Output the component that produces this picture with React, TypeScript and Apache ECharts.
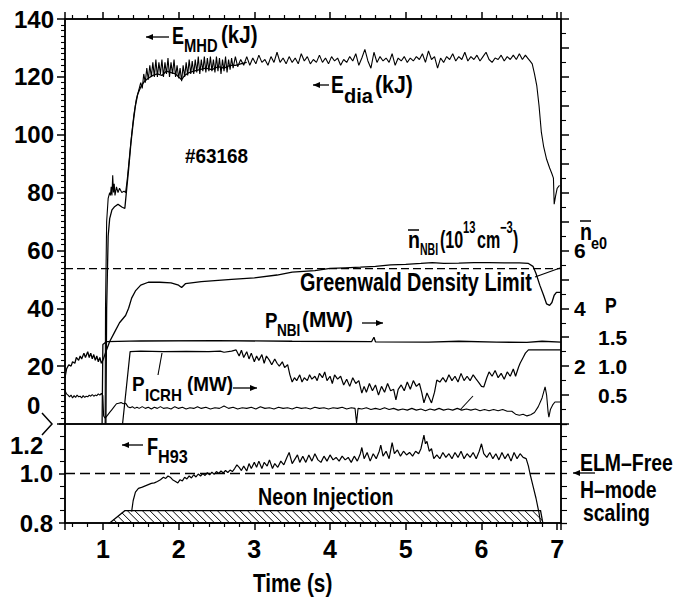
import React, { useEffect, useRef } from 'react';
import * as echarts from 'echarts';

// ---------- data (time in s) ----------
const timeMin = 0.5;
const timeMax = 7.05;

// stored energy E_MHD (kJ), left axis
const eMhd: [number, number][] = [
  [1.03, 0], [1.035, 40], [1.05, 70], [1.07, 78], [1.09, 80], [1.1, 79], [1.11, 82], [1.12, 79], [1.13, 86], [1.14, 80],
  [1.15, 83], [1.16, 79], [1.18, 82], [1.2, 80], [1.22, 81.5], [1.25, 80], [1.28, 80.5], [1.3, 80], [1.32, 84], [1.35, 92],
  [1.38, 100], [1.41, 107], [1.44, 112], [1.47, 115], [1.5, 118], [1.52, 116], [1.54, 121], [1.56, 118], [1.58, 123], [1.6, 119],
  [1.62, 124], [1.64, 120], [1.66, 125], [1.68, 120], [1.7, 126], [1.72, 120], [1.74, 125], [1.76, 121], [1.78, 126], [1.8, 120],
  [1.82, 125], [1.84, 121], [1.86, 126.5], [1.88, 120], [1.9, 125], [1.92, 121], [1.94, 126], [1.96, 120], [1.98, 124], [2.0, 119.5],
  [2.02, 123], [2.04, 118.5], [2.06, 124], [2.08, 120], [2.1, 125], [2.12, 120.5], [2.14, 126], [2.16, 121], [2.18, 125.5], [2.2, 121],
  [2.22, 126], [2.24, 121.5], [2.26, 127], [2.28, 121], [2.3, 126], [2.32, 122], [2.34, 127], [2.36, 121.5], [2.38, 126.5], [2.4, 122],
  [2.42, 127], [2.44, 122], [2.46, 126], [2.48, 121.5], [2.5, 127], [2.52, 122], [2.54, 126.5], [2.56, 121], [2.58, 126], [2.6, 122],
  [2.62, 127], [2.64, 121.5], [2.66, 126], [2.68, 122.5], [2.7, 126.5], [2.72, 123], [2.75, 127], [2.78, 123.5], [2.82, 126], [2.86, 124],
  [2.9, 127], [2.94, 124], [2.98, 126.5], [3.02, 124.5], [3.06, 127.5], [3.1, 125], [3.14, 126], [3.18, 124], [3.22, 127], [3.26, 125],
  [3.3, 128.5], [3.34, 125], [3.38, 126.5], [3.42, 124.5], [3.46, 127], [3.5, 125], [3.54, 126.5], [3.58, 124.5], [3.62, 128], [3.66, 125.5],
  [3.7, 127], [3.74, 124.5], [3.78, 126], [3.82, 125], [3.86, 127.5], [3.9, 125], [3.94, 126.5], [3.98, 124.5], [4.02, 127], [4.06, 125.5],
  [4.1, 126.5], [4.14, 124], [4.18, 126], [4.22, 125], [4.26, 127], [4.3, 125.5], [4.34, 128], [4.38, 124], [4.42, 126.5], [4.46, 129.5],
  [4.5, 125.5], [4.54, 123], [4.58, 128.5], [4.62, 125], [4.66, 127], [4.7, 125.5], [4.74, 126.5], [4.78, 125], [4.82, 128], [4.86, 124],
  [4.9, 126.5], [4.94, 125.5], [4.98, 127], [5.02, 125], [5.06, 126.5], [5.1, 125.5], [5.14, 127], [5.18, 126], [5.22, 128], [5.26, 125],
  [5.3, 129], [5.34, 126], [5.38, 127], [5.42, 123], [5.46, 126.5], [5.5, 125], [5.54, 127], [5.58, 126], [5.62, 128], [5.66, 125.5],
  [5.7, 127], [5.74, 126], [5.78, 128.5], [5.82, 125.5], [5.86, 127], [5.9, 126], [5.94, 127.5], [5.98, 125.5], [6.02, 127], [6.06, 128.5],
  [6.1, 126], [6.14, 125], [6.18, 126.5], [6.22, 126], [6.26, 127.5], [6.3, 125.5], [6.34, 127], [6.38, 126], [6.42, 127.5], [6.46, 126],
  [6.5, 128], [6.54, 126], [6.58, 127.5], [6.61, 126.5], [6.64, 125.5], [6.67, 124.5], [6.7, 121], [6.73, 117], [6.76, 110], [6.79, 101],
  [6.82, 96], [6.86, 91.5], [6.9, 88.5], [6.93, 86.5], [6.95, 85], [6.96, 76], [6.98, 79], [7.0, 81.5], [7.03, 82.5],
];

// diamagnetic energy E_dia (kJ), left axis
const eDia: [number, number][] = [
  [1.04, 0], [1.05, 40], [1.07, 65], [1.09, 71], [1.12, 74], [1.15, 75], [1.2, 76], [1.25, 75], [1.29, 74.5], [1.31, 80],
  [1.34, 88], [1.37, 97], [1.4, 104], [1.43, 110], [1.46, 114], [1.5, 116.5], [1.55, 118.5], [1.6, 119.5], [1.66, 120.5], [1.72, 121],
  [1.78, 120.5], [1.84, 122], [1.9, 121.5], [1.96, 121], [2.0, 120], [2.04, 119], [2.08, 120.5], [2.14, 121.5], [2.2, 122], [2.28, 122.5],
  [2.36, 123], [2.44, 122.5], [2.52, 123.5], [2.6, 123], [2.68, 124], [2.75, 124], [2.82, 124.5], [2.9, 125],
];

// line averaged density (10^13 cm^-3), right n_e0 axis
const density: [number, number][] = [
  [0.5, 1.6], [0.52, 1.9], [0.55, 2.05], [0.58, 2.0], [0.6, 2.15], [0.63, 2.1], [0.65, 2.3], [0.68, 2.2], [0.7, 2.35], [0.72, 2.25],
  [0.75, 2.45], [0.77, 2.3], [0.8, 2.5], [0.82, 2.3], [0.84, 2.45], [0.86, 2.25], [0.88, 2.4], [0.9, 2.2], [0.92, 2.35], [0.94, 2.15],
  [0.96, 2.3], [0.98, 2.1], [1.0, 2.2], [1.04, 2.5], [1.09, 2.85], [1.15, 3.15], [1.22, 3.5], [1.3, 3.75], [1.34, 4.0], [1.38, 4.35],
  [1.43, 4.6], [1.5, 4.8], [1.6, 4.9], [1.75, 4.9], [1.9, 4.88], [2.0, 4.8], [2.04, 4.72], [2.09, 4.85], [2.3, 4.92], [2.7, 5.0],
  [3.0, 5.05], [3.3, 5.15], [3.5, 5.25], [3.8, 5.3], [4.0, 5.38], [4.2, 5.4], [4.4, 5.42], [4.6, 5.45], [4.8, 5.5], [5.0, 5.52],
  [5.2, 5.55], [5.35, 5.58], [5.5, 5.55], [5.7, 5.56], [5.9, 5.58], [6.1, 5.58], [6.3, 5.57], [6.5, 5.57], [6.62, 5.55], [6.68, 5.45],
  [6.72, 5.2], [6.77, 4.8], [6.82, 4.45], [6.86, 4.15], [6.9, 4.1], [6.93, 4.2], [6.96, 4.45], [6.99, 4.55], [7.05, 4.55],
];

// Greenwald density limit (10^13 cm^-3)
const greenwald: [number, number][] = [[0.5, 5.37], [7.05, 5.37]];

// NBI power (MW), left axis
const pNbi: [number, number][] = [
  [0.99, 0], [1.0, 27.5], [1.05, 28.5], [1.5, 28.7], [2.5, 28.8], [3.5, 28.6], [4.55, 28.5], [4.58, 30], [4.6, 28.4],
  [5.3, 28.3], [5.7, 28.6], [6.2, 28.3], [6.6, 28.2], [6.8, 28.6], [7.05, 28.3],
];

// ICRH power (MW), left axis
const pIcrh: [number, number][] = [
  [1.26, 0], [1.36, 25], [1.5, 25.2], [1.8, 25], [2.1, 25.1], [2.4, 25], [2.55, 25.2], [2.6, 24.8], [2.7, 25.2], [2.76, 25.6],
  [2.8, 23.5], [2.83, 25.5], [2.86, 23], [2.9, 25], [2.93, 22.5], [2.96, 24.5], [3.0, 21.5], [3.03, 23.5], [3.06, 22], [3.1, 24],
  [3.13, 21], [3.16, 23.5], [3.2, 22], [3.23, 20.5], [3.27, 22.5], [3.3, 21], [3.33, 20], [3.37, 21.5], [3.4, 19.5], [3.44, 20.5],
  [3.47, 17], [3.5, 14.5], [3.53, 16], [3.56, 15], [3.6, 17], [3.63, 14.5], [3.66, 16], [3.7, 15], [3.73, 17], [3.76, 15.5],
  [3.8, 16.5], [3.83, 15], [3.86, 17.5], [3.9, 16], [3.93, 18], [3.96, 15], [4.0, 16.5], [4.03, 14], [4.06, 17], [4.1, 15.5],
  [4.14, 16.5], [4.18, 13.5], [4.22, 15.5], [4.26, 13], [4.3, 16], [4.34, 14], [4.38, 15], [4.42, 10.7], [4.45, 13], [4.48, 11],
  [4.52, 14], [4.56, 11.5], [4.6, 13.5], [4.64, 10], [4.68, 13], [4.72, 11], [4.76, 14], [4.8, 11.5], [4.84, 12], [4.87, 8.3],
  [4.9, 12], [4.94, 13.5], [4.98, 11.5], [5.02, 14.5], [5.06, 12], [5.1, 15], [5.14, 13], [5.18, 14], [5.21, 11], [5.24, 7.3],
  [5.28, 10.7], [5.31, 9], [5.34, 7.3], [5.38, 11], [5.41, 15.2], [5.45, 14.5], [5.49, 16], [5.53, 14.5], [5.57, 17], [5.61, 15],
  [5.65, 16.5], [5.69, 14.5], [5.73, 17.5], [5.77, 15], [5.81, 16.5], [5.85, 15], [5.89, 17], [5.93, 15.5], [5.96, 14.5], [6.0, 13],
  [6.03, 12.8], [6.07, 16], [6.1, 18], [6.14, 16.5], [6.18, 18.5], [6.22, 16], [6.26, 17.5], [6.3, 15.5], [6.34, 18], [6.38, 16.5],
  [6.42, 19], [6.45, 16.5], [6.49, 19.7], [6.51, 21], [6.55, 23], [6.58, 24.5], [6.62, 25.6], [7.05, 25.6],
];

// lowest trace, right P axis
const pLow: [number, number][] = [
  [0.5, 0.58], [0.52, 0.52], [0.54, 0.5], [0.56, 0.47], [0.58, 0.5], [0.6, 0.45], [0.62, 0.49], [0.64, 0.46], [0.66, 0.5], [0.68, 0.47],
  [0.7, 0.48], [0.72, 0.45], [0.74, 0.49], [0.76, 0.46], [0.78, 0.48], [0.8, 0.47], [0.82, 0.5], [0.84, 0.48], [0.86, 0.51], [0.88, 0.48],
  [0.9, 0.5], [0.92, 0.49], [0.94, 0.52], [0.96, 0.5], [0.98, 0.53], [1.0, 0.49], [1.01, 0.14], [1.03, 0.1], [1.06, 0.15], [1.09, 0.2],
  [1.12, 0.25], [1.15, 0.3], [1.18, 0.35], [1.21, 0.36], [1.24, 0.37], [1.27, 0.35], [1.3, 0.36], [1.33, 0.3], [1.36, 0.28], [1.39, 0.3],
  [1.42, 0.27], [1.45, 0.29], [1.48, 0.27], [1.52, 0.3], [1.56, 0.27], [1.6, 0.29], [1.64, 0.26], [1.68, 0.29], [1.72, 0.27], [1.76, 0.3],
  [1.8, 0.27], [1.85, 0.28], [1.9, 0.26], [1.95, 0.3], [2.0, 0.27], [2.05, 0.29], [2.1, 0.26], [2.15, 0.28], [2.2, 0.27], [2.25, 0.3],
  [2.3, 0.27], [2.36, 0.29], [2.42, 0.26], [2.48, 0.28], [2.54, 0.27], [2.6, 0.31], [2.66, 0.27], [2.72, 0.29], [2.78, 0.26], [2.84, 0.28],
  [2.9, 0.27], [2.96, 0.29], [3.02, 0.26], [3.08, 0.3], [3.14, 0.27], [3.2, 0.28], [3.26, 0.26], [3.32, 0.29], [3.38, 0.27], [3.44, 0.28],
  [3.5, 0.26], [3.56, 0.29], [3.62, 0.27], [3.68, 0.28], [3.74, 0.26], [3.8, 0.29], [3.86, 0.27], [3.92, 0.28], [3.98, 0.26], [4.04, 0.28],
  [4.1, 0.27], [4.16, 0.29], [4.22, 0.26], [4.28, 0.28], [4.33, 0.27], [4.35, 0.02], [4.37, 0.27], [4.42, 0.26], [4.48, 0.28], [4.54, 0.25],
  [4.6, 0.27], [4.66, 0.25], [4.72, 0.28], [4.78, 0.25], [4.84, 0.27], [4.9, 0.24], [4.96, 0.26], [5.02, 0.24], [5.08, 0.27], [5.14, 0.24],
  [5.2, 0.26], [5.26, 0.23], [5.32, 0.26], [5.38, 0.24], [5.44, 0.27], [5.5, 0.24], [5.56, 0.26], [5.62, 0.24], [5.68, 0.27], [5.74, 0.24],
  [5.8, 0.26], [5.86, 0.24], [5.92, 0.26], [5.98, 0.23], [6.04, 0.25], [6.1, 0.23], [6.16, 0.25], [6.22, 0.23], [6.28, 0.25], [6.34, 0.22],
  [6.4, 0.22], [6.45, 0.17], [6.5, 0.15], [6.55, 0.17], [6.6, 0.14], [6.65, 0.16], [6.7, 0.2], [6.75, 0.3], [6.8, 0.45], [6.84, 0.64],
  [6.86, 0.5], [6.88, 0.2], [6.89, 0.12], [6.91, 0.25], [6.94, 0.33], [6.97, 0.38], [7.05, 0.38],
];

// confinement enhancement factor F_H93, lower panel
const fH93: [number, number][] = [
  [1.38, 0.846], [1.4, 0.89], [1.43, 0.925], [1.47, 0.94], [1.52, 0.945], [1.56, 0.95], [1.6, 0.955], [1.64, 0.96], [1.68, 0.962], [1.72, 0.968],
  [1.76, 0.975], [1.8, 0.985], [1.83, 0.98], [1.86, 0.99], [1.89, 0.985], [1.92, 0.975], [1.96, 0.968], [1.99, 0.962], [2.02, 0.975], [2.05, 0.97],
  [2.08, 0.985], [2.11, 0.978], [2.14, 0.99], [2.17, 0.982], [2.2, 0.995], [2.23, 0.986], [2.26, 0.998], [2.29, 0.99], [2.32, 1.0], [2.35, 0.992],
  [2.38, 1.003], [2.41, 0.995], [2.44, 1.005], [2.47, 0.997], [2.5, 1.008], [2.53, 1.0], [2.56, 1.01], [2.59, 1.002], [2.62, 1.012], [2.65, 1.004],
  [2.68, 1.014], [2.71, 1.008], [2.74, 1.02], [2.77, 1.035], [2.8, 1.025], [2.83, 1.012], [2.86, 1.03], [2.9, 1.01], [2.93, 1.04], [2.96, 1.02],
  [3.0, 1.045], [3.03, 1.025], [3.06, 1.05], [3.1, 1.02], [3.13, 1.045], [3.17, 1.03], [3.2, 1.055], [3.24, 1.02], [3.27, 1.04], [3.31, 1.025],
  [3.35, 1.05], [3.39, 1.035], [3.43, 1.065], [3.46, 1.085], [3.5, 1.04], [3.54, 1.06], [3.57, 1.075], [3.6, 1.045], [3.64, 1.07], [3.68, 1.045],
  [3.72, 1.075], [3.76, 1.05], [3.8, 1.08], [3.84, 1.055], [3.88, 1.045], [3.92, 1.07], [3.96, 1.05], [4.0, 1.075], [4.04, 1.055], [4.08, 1.065],
  [4.12, 1.05], [4.16, 1.07], [4.2, 1.055], [4.24, 1.065], [4.28, 1.045], [4.32, 1.07], [4.36, 1.05], [4.4, 1.08], [4.42, 1.105], [4.45, 1.06],
  [4.49, 1.085], [4.53, 1.05], [4.57, 1.08], [4.61, 1.06], [4.65, 1.09], [4.67, 1.115], [4.7, 1.07], [4.74, 1.09], [4.78, 1.06], [4.82, 1.125],
  [4.85, 1.08], [4.89, 1.095], [4.93, 1.07], [4.97, 1.09], [5.01, 1.075], [5.05, 1.085], [5.09, 1.07], [5.13, 1.09], [5.17, 1.08], [5.2, 1.1],
  [5.24, 1.155], [5.26, 1.12], [5.28, 1.13], [5.31, 1.09], [5.34, 1.1], [5.37, 1.06], [5.41, 1.075], [5.45, 1.06], [5.49, 1.085], [5.53, 1.065],
  [5.57, 1.08], [5.61, 1.06], [5.65, 1.085], [5.69, 1.065], [5.73, 1.09], [5.77, 1.06], [5.81, 1.08], [5.85, 1.065], [5.89, 1.085], [5.93, 1.06],
  [5.97, 1.09], [6.0, 1.12], [6.03, 1.08], [6.07, 1.065], [6.11, 1.085], [6.15, 1.06], [6.19, 1.08], [6.23, 1.055], [6.27, 1.085], [6.31, 1.06],
  [6.35, 1.08], [6.39, 1.05], [6.43, 1.085], [6.47, 1.06], [6.51, 1.08], [6.55, 1.065], [6.59, 1.06], [6.62, 1.03], [6.64, 1.0], [6.68, 0.95],
  [6.72, 0.9], [6.76, 0.84], [6.78, 0.8],
];

// ELM-free H-mode scaling reference
const hModeRef: [number, number][] = [[0.5, 1.0], [7.05, 1.0]];

// neon injection window: start, full, end, stop, level
const neonBase = 0.8;
const neonWindow: number[][] = [[1.09, 1.29, 6.78, 6.81, 0.85]];

// tick labels shown
const neLabels = [2, 4, 6];
const pLabels = [0.5, 1.0, 1.5];

// ---------- helpers ----------
const SANS = '"Liberation Sans", Arial, sans-serif';
const BLACK = '#000';

const lab = (x: number, y: number, text: string, size: number, sx = 1) => ({
  type: 'text',
  x,
  y,
  scaleX: sx,
  z: 100,
  style: { text, font: `bold ${size}px ${SANS}`, fill: BLACK, align: 'left', verticalAlign: 'middle' },
});

const seg = (x1: number, y1: number, x2: number, y2: number, w = 1.3) => ({
  type: 'line',
  z: 100,
  shape: { x1, y1, x2, y2 },
  style: { stroke: BLACK, lineWidth: w },
});

const arrow = (x1: number, x2: number, y: number, dir: 'l' | 'r') => {
  const head = dir === 'l' ? x1 : x2;
  const s = dir === 'l' ? 1 : -1;
  return [
    seg(x1, y, x2, y, 1.3),
    {
      type: 'polygon',
      z: 100,
      shape: { points: [[head, y], [head + s * 7, y - 3], [head + s * 7, y + 3]] },
      style: { fill: BLACK },
    },
  ];
};

const renderNeon = (_params: any, api: any) => {
  const b0 = api.coord([api.value(0), neonBase]);
  const t0 = api.coord([api.value(1), api.value(4)]);
  const t1 = api.coord([api.value(2), api.value(4)]);
  const b1 = api.coord([api.value(3), neonBase]);
  const h = b0[1] - t0[1];
  const children: any[] = [
    {
      type: 'polygon',
      shape: { points: [b0, t0, t1, b1] },
      style: { fill: 'none', stroke: BLACK, lineWidth: 1.3 },
    },
  ];
  for (let s = b0[0] - h; s <= b1[0]; s += 7.5) {
    let lo = 0;
    let hi = 1;
    let ok = true;
    const cons = [
      [s - t0[0], h + t0[0] - b0[0]],
      [t1[0] - s, b1[0] - t1[0] - h],
    ];
    for (const [c0, c1] of cons) {
      if (Math.abs(c1) < 1e-9) {
        if (c0 < 0) ok = false;
      } else if (c1 > 0) lo = Math.max(lo, -c0 / c1);
      else hi = Math.min(hi, -c0 / c1);
    }
    if (!ok || hi <= lo) continue;
    children.push({
      type: 'line',
      shape: { x1: s + h * lo, y1: t0[1] + h * lo, x2: s + h * hi, y2: t0[1] + h * hi },
      style: { stroke: BLACK, lineWidth: 1 },
    });
  }
  return { type: 'group', children };
};

const axisLineStyle = { color: BLACK, width: 1.5 };
const tickLabel = (size: number) => ({
  color: BLACK,
  fontFamily: SANS,
  fontWeight: 'bold' as const,
  fontSize: size,
});

const xAxisBase = {
  type: 'value',
  min: timeMin,
  max: timeMax,
  splitNumber: 7,
  splitLine: { show: false },
  axisLine: { show: true, onZero: false, lineStyle: axisLineStyle },
  axisTick: { show: true, inside: false, length: 7, lineStyle: { color: BLACK, width: 1.5 } },
  minorTick: { show: true, splitNumber: 5, length: 4, lineStyle: { color: BLACK, width: 1.2 } },
};

const line = (data: [number, number][], xi: number, yi: number, extra: any = {}) => ({
  type: 'line',
  data,
  xAxisIndex: xi,
  yAxisIndex: yi,
  symbol: 'none',
  lineStyle: { color: BLACK, width: 1.3 },
  z: 3,
  ...extra,
});

export default function App() {
  const ref = useRef<HTMLDivElement>(null);
  useEffect(() => {
    if (!ref.current) return;
    const chart = echarts.init(ref.current, undefined, { renderer: 'svg' });
    const option: any = {
      animation: false,
      backgroundColor: '#fff',
      grid: [
        { left: 65, top: 19, width: 496, height: 405, show: true, borderColor: BLACK, borderWidth: 1.5, backgroundColor: 'transparent' },
        { left: 65, top: 424, width: 496, height: 99, show: true, borderColor: BLACK, borderWidth: 1.5, backgroundColor: 'transparent' },
      ],
      xAxis: [
        { ...xAxisBase, gridIndex: 0, position: 'top', axisLabel: { show: false } },
        {
          ...xAxisBase,
          gridIndex: 1,
          position: 'bottom',
          axisLabel: {
            ...tickLabel(25),
            margin: 13,
            formatter: (v: number) => (Number.isInteger(v) ? String(v) : ''),
          },
        },
      ],
      yAxis: [
        {
          type: 'value', gridIndex: 0, position: 'left', min: 0, max: 140, interval: 20,
          splitLine: { show: false },
          axisLine: { show: true, lineStyle: axisLineStyle },
          axisTick: { show: true, inside: false, length: 8, lineStyle: { color: BLACK, width: 1.5 } },
          minorTick: { show: true, splitNumber: 10, length: 4, lineStyle: { color: BLACK, width: 1.1 } },
          axisLabel: { ...tickLabel(24), margin: 11, formatter: (v: number) => (v === 0 ? '' : String(v)) },
        },
        {
          type: 'value', gridIndex: 0, position: 'right', min: 0, max: 14, interval: 1,
          splitLine: { show: false },
          axisLine: { show: true, lineStyle: axisLineStyle },
          axisTick: { show: true, inside: false, length: 8, lineStyle: { color: BLACK, width: 1.5 } },
          minorTick: { show: true, splitNumber: 2, length: 5, lineStyle: { color: BLACK, width: 1.1 } },
          axisLabel: { ...tickLabel(21), margin: 13, formatter: (v: number) => (neLabels.includes(v) ? String(v) : '') },
        },
        {
          type: 'value', gridIndex: 0, position: 'right', offset: 36, min: 0, max: 7, interval: 0.5,
          splitLine: { show: false },
          axisLine: { show: false },
          axisTick: { show: false },
          axisLabel: {
            ...tickLabel(21), margin: 1,
            formatter: (v: number) => (pLabels.some((p) => Math.abs(p - v) < 1e-6) ? v.toFixed(1) : ''),
          },
        },
        {
          type: 'value', gridIndex: 1, position: 'left', min: 0.8, max: 1.2, interval: 0.2,
          splitLine: { show: false },
          axisLine: { show: true, lineStyle: axisLineStyle },
          axisTick: { show: true, inside: false, length: 6, lineStyle: { color: BLACK, width: 1.5 } },
          minorTick: { show: true, splitNumber: 4, length: 5, lineStyle: { color: BLACK, width: 1.1 } },
          axisLabel: { ...tickLabel(24), margin: 12, formatter: (v: number) => (v > 1.15 ? '' : v.toFixed(1)) },
        },
        {
          type: 'value', gridIndex: 1, position: 'right', min: 0.8, max: 1.2, interval: 0.2,
          splitLine: { show: false },
          axisLine: { show: true, lineStyle: axisLineStyle },
          axisTick: { show: true, inside: false, length: 6, lineStyle: { color: BLACK, width: 1.3 } },
          minorTick: { show: true, splitNumber: 4, length: 6, lineStyle: { color: BLACK, width: 1.1 } },
          axisLabel: { show: false },
        },
      ],
      series: [
        line(eMhd, 0, 0, { name: 'E_MHD', lineStyle: { color: BLACK, width: 1.1 } }),
        line(eDia, 0, 0, { name: 'E_dia' }),
        line(density, 0, 1, { name: 'n_NBI' }),
        line(greenwald, 0, 1, { name: 'Greenwald', lineStyle: { color: BLACK, width: 1.3, type: [8, 4] } }),
        line(pNbi, 0, 0, { name: 'P_NBI' }),
        line(pIcrh, 0, 0, { name: 'P_ICRH', lineStyle: { color: BLACK, width: 1.2 } }),
        line(pLow, 0, 2, { name: 'P', lineStyle: { color: BLACK, width: 1.1 } }),
        line(fH93, 1, 3, { name: 'F_H93', lineStyle: { color: BLACK, width: 1.2 } }),
        line(hModeRef, 1, 3, { name: 'H-mode scaling', lineStyle: { color: BLACK, width: 1.3, type: [10, 5] } }),
        {
          type: 'custom',
          name: 'Neon Injection',
          xAxisIndex: 1,
          yAxisIndex: 3,
          data: neonWindow,
          encode: { x: [0, 1, 2, 3], y: 4 },
          renderItem: renderNeon,
          z: 2,
        },
      ],
      graphic: {
        elements: [
          // E_MHD label
          ...arrow(146, 169, 37, 'l'),
          lab(172, 36, 'E', 24, 0.75),
          lab(184, 45, 'MHD', 18, 0.82),
          lab(221, 35, '(kJ)', 24, 0.86),
          // E_dia label
          ...arrow(313, 329, 85, 'l'),
          lab(331, 85, 'E', 24, 0.8),
          lab(344, 96, 'dia', 20, 1.0),
          lab(375, 85, '(kJ)', 24, 0.89),
          // shot number
          lab(185, 156, '#63168', 21, 0.9),
          // density label
          lab(408, 240, 'n', 23, 0.85),
          seg(408, 230, 419, 230, 1.5),
          lab(420, 249, 'NBI', 17, 0.62),
          lab(440, 240, '(10', 23, 0.7),
          lab(463, 227, '13', 16, 0.7),
          lab(477, 240, 'cm', 23, 0.7),
          lab(500, 227, '−3', 16, 0.7),
          lab(513, 240, ')', 23, 0.7),
          // right axis title
          lab(580, 232, 'n', 23, 0.85),
          seg(580, 221, 591, 221, 1.5),
          lab(591, 243, 'e0', 17, 0.85),
          lab(605, 305, 'P', 22, 0.8),
          // Greenwald
          lab(300, 283, 'Greenwald Density Limit', 25, 0.795),
          seg(535, 277, 560, 268, 1.2),
          // P_NBI
          lab(265, 320, 'P', 22, 0.85),
          lab(277, 330, 'NBI', 17, 0.8),
          lab(302, 320, '(MW)', 22, 0.95),
          ...arrow(362, 383, 323, 'r'),
          // P_ICRH
          lab(132, 384, 'P', 21, 0.9),
          lab(145, 395, 'ICRH', 17, 0.89),
          lab(187, 384, '(MW)', 21, 0.9),
          ...arrow(233, 257, 388, 'r'),
          seg(162, 353, 158, 375, 1.1),
          seg(460, 410, 473, 396, 1.1),
          // displaced axis labels
          lab(27, 405, '0', 24, 1),
          lab(10, 445, '1.2', 24, 1),
          { type: 'polyline', z: 100, shape: { points: [[42, 413], [52, 424], [42, 435]] }, style: { stroke: BLACK, lineWidth: 1.5, fill: 'none' } },
          // F_H93
          ...arrow(122, 143, 445, 'l'),
          lab(147, 447, 'F', 23, 0.79),
          lab(158, 457, 'H93', 18, 0.9),
          // lower panel texts
          lab(258, 497, 'Neon Injection', 24, 0.82),
          lab(580, 463, 'ELM–Free', 24, 0.81),
          lab(580, 490, 'H–mode', 24, 0.81),
          lab(583, 513, 'scaling', 24, 0.81),
          ...arrow(573, 595, 473, 'l'),
          // x axis title
          lab(253, 583, 'Time (s)', 26, 0.8),
        ],
      },
    };
    chart.setOption(option);
    return () => chart.dispose();
  }, []);
  return <div ref={ref} style={{ position: 'absolute', left: 0, top: 0, width: 681, height: 606 }} />;
}
